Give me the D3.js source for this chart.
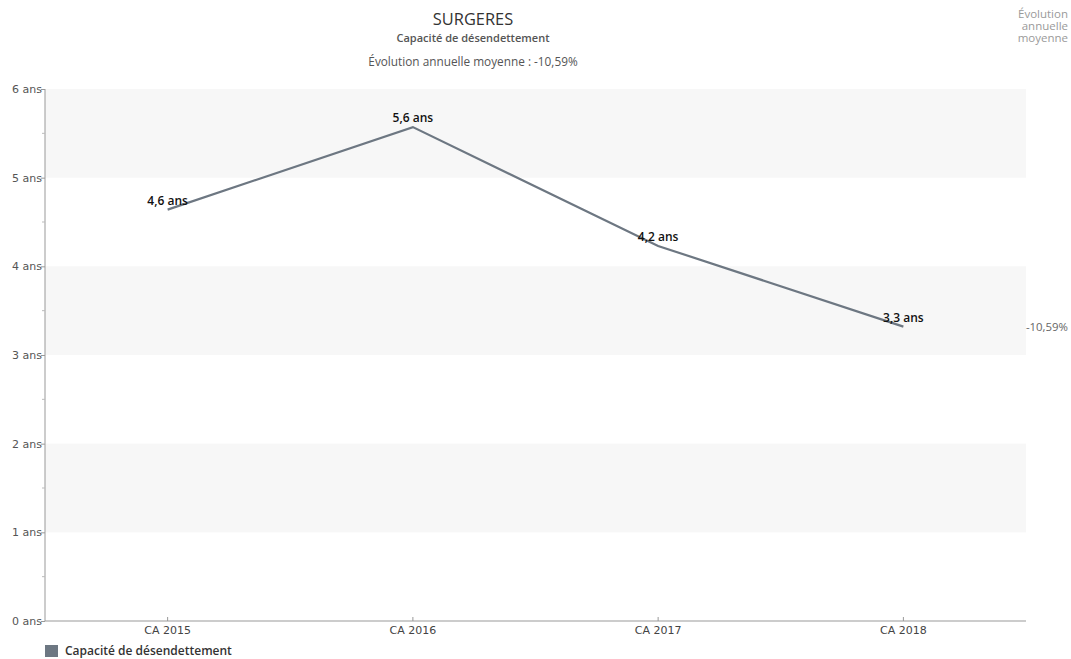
<!DOCTYPE html>
<html><head><meta charset="utf-8">
<script src="https://cdn.jsdelivr.net/npm/d3@7"></script>
<style>body{margin:0;background:#fff;font-family:"Open Sans",sans-serif;}</style>
</head><body><svg id="c" width="1071" height="659"></svg>
<script>
const categories = ["CA 2015","CA 2016","CA 2017","CA 2018"];
const values = [4.64, 5.57, 4.23, 3.32];
const labels = ["4,6 ans","5,6 ans","4,2 ans","3,3 ans"];
const yTicks = [0,1,2,3,4,5,6];
const seriesName = "Capacité de désendettement";
const evolution = "-10,59%";

const svg = d3.select("#c");
const m = {l:45, r:1026, t:89, b:621};
const x = d3.scaleBand().domain(categories).range([m.l, m.r]);
const y = d3.scaleLinear().domain([0,6]).range([m.b, m.t]);
const col = "#6d7782";
const axisFont = "DejaVu Sans";

// bands
[[5,6],[3,4],[1,2]].forEach(([a,b])=>{
  svg.append("rect").attr("x",m.l).attr("width",m.r-m.l)
    .attr("y",y(b)).attr("height",y(a)-y(b)).attr("fill","#f7f7f7");
});

// y axis
const ya = svg.append("g").attr("transform",`translate(${m.l},0)`)
  .call(d3.axisLeft(y).tickValues(yTicks).tickSize(4).tickFormat(d=>d+" ans"));
ya.select(".domain").attr("stroke","#999").attr("d",`M0,${m.t}V${m.b}`);
ya.selectAll(".tick line").attr("stroke","#999");
ya.selectAll(".tick text").attr("font-family",axisFont).attr("font-size",11).attr("fill","#555").attr("x",-3).attr("dy","0.32em");
const minor = d3.range(0.5,6,1);
svg.append("g").selectAll("line").data(minor).join("line")
  .attr("x1",m.l-3).attr("x2",m.l).attr("y1",d=>y(d)).attr("y2",d=>y(d)).attr("stroke","#bbb");

// x axis
const xa = svg.append("g").attr("transform",`translate(0,${m.b})`)
  .call(d3.axisBottom(x).tickSize(4).tickSizeOuter(0));
xa.select(".domain").attr("stroke","#999").attr("d",`M${m.l},0H${m.r}`);
xa.selectAll(".tick line").attr("stroke","#999").attr("y1",-4).attr("y2",0);
xa.selectAll(".tick text").attr("font-family",axisFont).attr("font-size",11).attr("fill","#444").attr("y",5);

// line
const cx = d=>x(d)+x.bandwidth()/2;
const pts = categories.map((c,i)=>[cx(c), y(values[i])]);
svg.append("path").attr("d",d3.line()(pts)).attr("fill","none").attr("stroke",col).attr("stroke-width",2.2);

// labels
svg.append("g").selectAll("text").data(categories).join("text")
  .attr("x",d=>cx(d)).attr("y",(d,i)=>y(values[i])-5).attr("text-anchor","middle")
  .attr("font-family","Open Sans").attr("font-size",12).attr("font-weight",600).attr("fill","#111")
  .text((d,i)=>labels[i]);

// right evolution
svg.append("text").attr("x",1068).attr("y",y(values[3])+4).attr("text-anchor","end")
  .attr("font-size",11.4).attr("fill","#666").text(evolution);
const tr = svg.append("text").attr("text-anchor","end").attr("font-size",11.5).attr("fill","#9a9a9a");
["Évolution","annuelle","moyenne"].forEach((t,i)=>{
  tr.append("tspan").attr("x",1068).attr("y",18+i*12).text(t);
});

// titles
svg.append("text").attr("x",473).attr("y",25).attr("text-anchor","middle").attr("font-size",16.4).attr("fill","#333").text("SURGERES");
svg.append("text").attr("x",473).attr("y",42).attr("text-anchor","middle").attr("font-size",11).attr("font-weight",600).attr("fill","#555").text(seriesName);
svg.append("text").attr("x",473).attr("y",66).attr("text-anchor","middle").attr("font-size",11.8).attr("fill","#555").text("Évolution annuelle moyenne : "+evolution);

// legend
svg.append("rect").attr("x",45).attr("y",645).attr("width",13).attr("height",12).attr("fill",col);
svg.append("text").attr("x",65).attr("y",655).attr("font-size",12).attr("font-weight",600).attr("fill","#333").text(seriesName);
</script></body></html>
